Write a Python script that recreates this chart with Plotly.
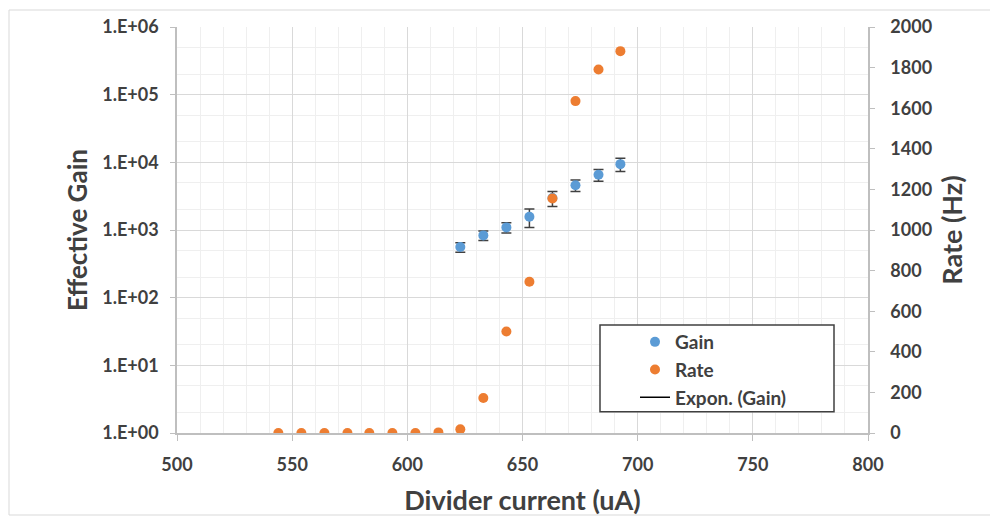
import plotly.graph_objects as go

# ---- data ----
gain_x = [623, 633, 643, 653, 663, 673, 683, 692.5]
gain_y = [560, 832, 1092, 1566, 2965, 4592, 6550, 9400]
gain_err = [90, 135, 190, 480, 740, 900, 1300, 2050]

rate_x = [544, 554, 564, 574, 583.5, 593.5, 603.5, 613.5, 623, 633, 643, 653, 663, 673, 683, 692.5]
rate_y = [0, 0, 0, 0, 0, 0, 0, 3, 18, 172, 500, 745, 1155, 1635, 1791, 1881]

gain_tickvals = [1, 10, 100, 1000, 10000, 100000, 1000000]
gain_ticktext = ["1.E+00", "1.E+01", "1.E+02", "1.E+03", "1.E+04", "1.E+05", "1.E+06"]

FONT = "Lato"
TXT = "#404040"
BLUE = "#5b9bd5"
ORANGE = "#ed7d31"
AX = "#bfbfbf"

# page body has an 8px margin: figure coords = window coords - 8
OFF = 8
W, H = 990, 508
L, R, T, B = 169, 130, 19, 83
pw, ph = W - L - R, H - T - B

def px_x(p):  # window pixel -> paper x
    return (p - OFF - L) / pw

def px_y(p):  # window pixel -> paper y
    return (H - B - (p - OFF)) / ph

fig = go.Figure()
fig.add_trace(go.Scatter(
    x=gain_x, y=gain_y, mode="markers", name="Gain",
    marker=dict(color=BLUE, size=10),
    error_y=dict(type="data", array=gain_err, visible=True, color="#404040",
                 thickness=1.5, width=5),
    yaxis="y",
))
fig.add_trace(go.Scatter(
    x=rate_x, y=rate_y, mode="markers", name="Rate",
    marker=dict(color=ORANGE, size=10),
    yaxis="y2",
))
fig.add_trace(go.Scatter(
    x=[None], y=[None], mode="lines", name="Expon. (Gain)",
    line=dict(color="#000000", width=1.5),
    yaxis="y",
))

tickfont = dict(family=FONT, size=18, color=TXT, weight="bold")

fig.update_layout(
    width=W, height=H,
    margin=dict(l=L, r=R, t=T, b=B, autoexpand=False),
    paper_bgcolor="white", plot_bgcolor="white",
    showlegend=True,
    legend=dict(
        x=px_x(635), y=px_y(323), xanchor="left", yanchor="top",
        bgcolor="rgba(0,0,0,0)", borderwidth=0,
        font=dict(family=FONT, size=19, color=TXT, weight="bold"),
    ),
    xaxis=dict(
        range=[500, 800], dtick=50, tick0=500,
        showgrid=True, gridcolor="#d9d9d9",
        minor=dict(dtick=10, showgrid=True, gridcolor="#efefef"),
        showline=True, linecolor=AX, linewidth=1.5,
        ticks="outside", ticklen=6, tickcolor=AX,
        tickfont=tickfont, ticklabelstandoff=9, zeroline=False,
        title=dict(text="Divider current (uA)", standoff=19,
                   font=dict(family=FONT, size=27, color=TXT, weight="bold")),
    ),
    yaxis=dict(
        type="log", range=[0, 6],
        tickvals=gain_tickvals, ticktext=gain_ticktext,
        showgrid=True, gridcolor="#d9d9d9",
        minor=dict(showgrid=True, gridcolor="#efefef"),
        showline=True, linecolor=AX, linewidth=1.5,
        ticks="outside", ticklen=5, tickcolor=AX,
        tickfont=tickfont, ticklabelstandoff=8, zeroline=False,
        title=dict(text="Effective Gain", standoff=7,
                   font=dict(family=FONT, size=26, color=TXT, weight="bold")),
    ),
    yaxis2=dict(
        overlaying="y", side="right", range=[0, 2000], dtick=200,
        showgrid=False, zeroline=False,
        showline=True, linecolor=AX, linewidth=1.5,
        ticks="outside", ticklen=5, tickcolor=AX,
        tickfont=tickfont, ticklabelstandoff=12,
        title=dict(text="Rate (Hz)", standoff=12,
                   font=dict(family=FONT, size=27, color=TXT, weight="bold")),
    ),
    shapes=[
        dict(type="rect", xref="paper", yref="paper",
             x0=px_x(600), x1=px_x(834), y0=px_y(411.7), y1=px_y(325),
             line=dict(color="#404040", width=1.5), fillcolor="white", layer="above"),
        dict(type="rect", xref="paper", yref="paper",
             x0=px_x(9), x1=px_x(1010), y0=px_y(515), y1=px_y(10),
             line=dict(color="#d9d9d9", width=1), fillcolor="rgba(0,0,0,0)", layer="below"),
    ],
)
fig.write_html("out.html")
